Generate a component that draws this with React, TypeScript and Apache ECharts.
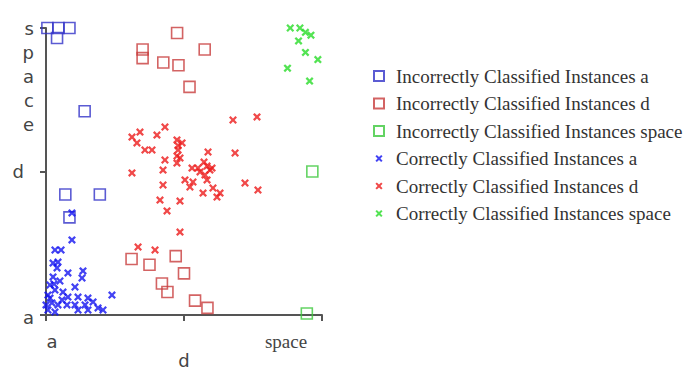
import React, { useEffect, useRef } from "react";
import * as echarts from "echarts";

const categories = ["a", "d", "space"];

const incorrectA: number[][] = [
  [0.01, 2.0], [0.09, 2.0], [0.17, 2.0], [0.08, 1.93], [0.28, 1.42],
  [0.14, 0.84], [0.39, 0.84], [0.17, 0.68],
];
const incorrectD: number[][] = [
  [0.95, 1.965], [0.7, 1.85], [0.7, 1.79], [0.85, 1.76], [0.96, 1.74],
  [1.15, 1.85], [1.04, 1.59], [0.62, 0.39], [0.75, 0.35], [0.94, 0.41],
  [1.0, 0.29], [0.84, 0.22], [0.88, 0.16], [1.08, 0.1], [1.17, 0.05],
];
const incorrectSpace: number[][] = [
  [1.93, 1.0], [1.89, 0.01],
];
const correctA: number[][] = [
  [0.188, 0.711], [0.188, 0.523], [0.065, 0.453], [0.109, 0.453], [0.051, 0.362],
  [0.08, 0.328], [0.159, 0.293], [0.268, 0.307], [0.261, 0.258], [0.051, 0.265],
  [0.101, 0.237], [0.21, 0.195], [0.029, 0.209], [0.065, 0.174], [0.123, 0.16],
  [0.014, 0.139], [0.159, 0.125], [0.232, 0.125], [0.304, 0.118], [0.478, 0.139],
  [0.043, 0.084], [0.087, 0.07], [0.152, 0.07], [0.21, 0.07], [0.283, 0.07],
  [0.341, 0.091], [0.377, 0.049], [0.413, 0.035], [0.014, 0.035], [0.065, 0.021],
  [0.232, 0.035], [0.304, 0.035], [0.029, 0.118], [0.0, 0.07], [0.116, 0.105],
  [0.058, 0.216], [0.087, 0.369],
];
const correctD: number[][] = [
  [1.355, 1.359], [1.529, 1.38], [0.681, 1.275], [0.862, 1.31], [0.804, 1.254],
  [0.623, 1.24], [0.659, 1.199], [0.717, 1.15], [0.768, 1.15], [0.949, 1.22],
  [0.986, 1.199], [0.957, 1.15], [0.949, 1.108], [1.174, 1.136], [1.37, 1.129],
  [0.862, 1.08], [0.949, 1.059], [0.848, 1.01], [0.623, 0.99], [1.058, 1.024],
  [1.101, 1.024], [1.167, 1.038], [1.188, 1.01], [1.145, 1.066], [1.007, 0.941],
  [1.065, 0.927], [1.167, 0.941], [1.442, 0.92], [0.848, 0.906], [1.043, 0.892],
  [1.138, 0.85], [1.21, 0.885], [1.261, 0.85], [1.536, 0.871], [0.826, 0.801],
  [0.971, 0.794], [0.877, 0.725], [1.239, 0.822], [0.971, 0.578], [0.667, 0.474],
  [0.79, 0.453], [0.957, 1.18], [0.971, 1.094], [1.116, 0.997], [1.152, 0.976],
  [1.203, 1.024],
];
const correctSpace: number[][] = [
  [1.77, 2.0], [1.84, 2.0], [1.88, 1.97], [1.92, 1.95], [1.83, 1.91],
  [1.88, 1.83], [1.97, 1.78], [1.75, 1.72], [1.91, 1.63],
];

const seriesNames = [
  "Incorrectly Classified Instances a",
  "Incorrectly Classified Instances d",
  "Incorrectly Classified Instances space",
  "Correctly Classified Instances a",
  "Correctly Classified Instances d",
  "Correctly Classified Instances space",
];

const CROSS = "path://M0,2L2,0L5,3L8,0L10,2L7,5L10,8L8,10L5,7L2,10L0,8L3,5Z";
const CROSS_SMALL =
  "path://M-2,-2L-2,-2ZM12,12L12,12ZM0,2L2,0L5,3L8,0L10,2L7,5L10,8L8,10L5,7L2,10L0,8L3,5Z";

export default function App() {
  const ref = useRef<HTMLDivElement>(null);
  useEffect(() => {
    if (!ref.current) return;
    const chart = echarts.init(ref.current, null, { renderer: "svg" });
    const square = (name: string, data: number[][], color: string) => ({
      name,
      type: "scatter",
      data,
      symbol: "rect",
      symbolSize: 11,
      itemStyle: { color: "rgba(0,0,0,0)", borderColor: color, borderWidth: 1.6 },
    });
    const cross = (name: string, data: number[][], color: string) => ({
      name,
      type: "scatter",
      data,
      symbol: CROSS,
      symbolSize: 8,
      itemStyle: { color },
    });
    const axisLineStyle = { color: "#555", width: 2 };
    chart.setOption({
      animation: false,
      backgroundColor: "#fff",
      grid: {
        left: 46,
        right: 367,
        top: 28,
        bottom: 57,
        containLabel: false,
        outerBoundsMode: "none",
      },
      legend: {
        orient: "vertical",
        left: 373,
        top: 66,
        padding: 0,
        itemWidth: 10,
        itemHeight: 10,
        itemGap: 7.5,
        textStyle: {
          fontFamily: "Liberation Serif",
          fontSize: 19,
          lineHeight: 20,
          color: "#333",
          padding: [0, 0, 0, 7],
        },
        data: [
          { name: seriesNames[0] },
          { name: seriesNames[1] },
          { name: seriesNames[2] },
          { name: seriesNames[3], icon: CROSS_SMALL },
          { name: seriesNames[4], icon: CROSS_SMALL },
          { name: seriesNames[5], icon: CROSS_SMALL },
        ],
      },
      xAxis: {
        type: "value",
        min: 0,
        max: 2,
        interval: 1,
        splitLine: { show: false },
        axisLine: { show: true, lineStyle: axisLineStyle },
        axisTick: { show: true, inside: false, length: 6, lineStyle: axisLineStyle },
        axisLabel: {
          margin: 17,
          color: "#444",
          fontFamily: "DejaVu Sans",
          fontSize: 18,
          formatter: (v: number) => {
            const c = categories[Math.round(v)];
            if (c === "a") return "{a|a}";
            if (c === "d") return "{d|d}";
            return "{s|space}";
          },
          rich: {
            a: { fontFamily: "DejaVu Sans", fontSize: 18, color: "#444", padding: [0, 0, 0, 12] },
            d: { fontFamily: "DejaVu Sans", fontSize: 18, color: "#444", padding: [19, 0, 0, 0] },
            s: { fontFamily: "Liberation Serif", fontSize: 19, color: "#444", padding: [0, 72, 0, 0] },
          },
        },
      },
      yAxis: {
        type: "value",
        min: 0,
        max: 2,
        interval: 1,
        splitLine: { show: false },
        axisLine: { show: true, lineStyle: axisLineStyle },
        axisTick: { show: true, inside: false, length: 6, lineStyle: axisLineStyle },
        axisLabel: {
          margin: 12,
          color: "#444",
          fontFamily: "DejaVu Sans",
          fontSize: 18,
          lineHeight: 24,
          hideOverlap: false,
          formatter: (v: number) => {
            const c = categories[Math.round(v)];
            if (c === "a") return "{a|a}";
            if (c === "d") return "{d|d}";
            return "\n\n\n\ns\np\na\nc\ne";
          },
          rich: {
            a: { fontFamily: "DejaVu Sans", fontSize: 18, color: "#444", padding: [4, 0, 0, 0] },
            d: { fontFamily: "DejaVu Sans", fontSize: 18, color: "#444", padding: [0, 10, 0, 0] },
          },
        },
      },
      series: [
        square(seriesNames[0], incorrectA, "#3232c8"),
        square(seriesNames[1], incorrectD, "#c83c3c"),
        square(seriesNames[2], incorrectSpace, "#3cc83c"),
        cross(seriesNames[3], correctA, "#1414f0"),
        cross(seriesNames[4], correctD, "#ec1c1c"),
        cross(seriesNames[5], correctSpace, "#28dc28"),
      ],
    });
    return () => chart.dispose();
  }, []);
  return (
    <div
      ref={ref}
      style={{ position: "fixed", left: 0, top: 0, width: 689, height: 372 }}
    />
  );
}
